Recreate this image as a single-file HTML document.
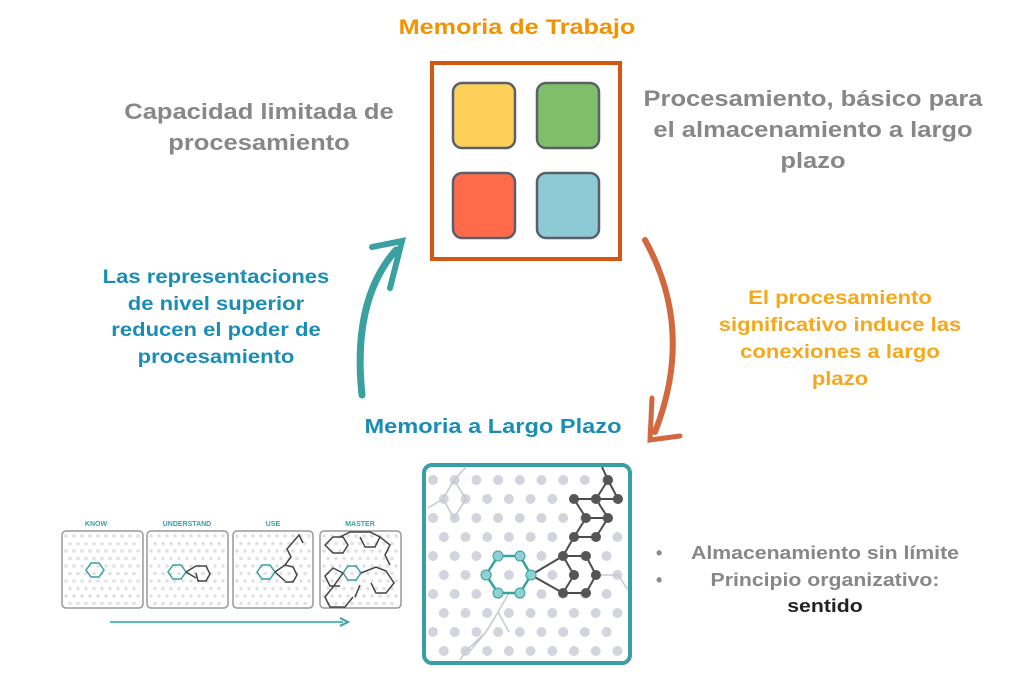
<!DOCTYPE html>
<html><head><meta charset="utf-8"><style>
html,body{margin:0;padding:0;background:#fff;}
body{width:1024px;height:682px;position:relative;overflow:hidden;font-family:"Liberation Sans",Arial,sans-serif;font-weight:bold;}
.t{position:absolute;text-align:center;white-space:nowrap;transform:scaleX(1.16);}
</style></head><body>
<div class="t" style="left:317px;width:400px;top:16px;font-size:21px;color:#f39200;transform:scaleX(1.2);">Memoria de Trabajo</div>
<div class="t" style="left:100px;width:318px;top:96px;font-size:22px;line-height:31px;color:#878787;">Capacidad limitada de<br>procesamiento</div>
<div class="t" style="left:630px;width:366px;top:83px;font-size:22px;line-height:31px;color:#878787;">Procesamiento, básico para<br>el almacenamiento a largo<br>plazo</div>
<div class="t" style="left:60px;width:312px;top:265px;font-size:19px;line-height:26.5px;color:#1a8db5;">Las representaciones<br>de nivel superior<br>reducen el poder de<br>procesamiento</div>
<div class="t" style="left:690px;width:300px;top:285px;font-size:19px;line-height:27px;color:#f5a81c;">El procesamiento<br>significativo induce las<br>conexiones a largo<br>plazo</div>
<div class="t" style="left:293px;width:400px;top:416px;font-size:20px;color:#1a8db5;transform:scaleX(1.18);">Memoria a Largo Plazo</div>
<div style="position:absolute;left:656px;top:540px;font-size:18px;line-height:27px;color:#8a8a8a;">•<br>•</div>
<div class="t" style="left:680px;width:290px;top:540px;font-size:18px;line-height:26.5px;color:#878787;transform:scaleX(1.18);">Almacenamiento sin límite<br>Principio organizativo:<br><span style="color:#222">sentido</span></div>

<svg width="1024" height="682" style="position:absolute;left:0;top:0" xmlns="http://www.w3.org/2000/svg">
<rect x="432" y="63" width="188" height="196" fill="none" stroke="#d4570f" stroke-width="4"/>
<rect x="453" y="83" width="62" height="65" rx="9" fill="#fdd05a" stroke="#5a5f6a" stroke-width="2.5"/>
<rect x="537" y="83" width="62" height="65" rx="9" fill="#7fbf6a" stroke="#5a5f6a" stroke-width="2.5"/>
<rect x="453" y="173" width="62" height="65" rx="9" fill="#ff6b4a" stroke="#5a5f6a" stroke-width="2.5"/>
<rect x="537" y="173" width="62" height="65" rx="9" fill="#8ecad6" stroke="#5a5f6a" stroke-width="2.5"/>
<g fill="none" stroke="#3aa0a0" stroke-width="7" stroke-linecap="round">
<path d="M362,395 Q352,300 396,250"/>
<path d="M372,247 L402,241 L390,288" stroke-width="6"/>
</g>
<g fill="none" stroke="#d2683f" stroke-width="6" stroke-linecap="round">
<path d="M645,240 Q695,330 655,432"/>
<path d="M652,398 L650,440 L680,436" stroke-width="5"/>
</g>
<rect x="424" y="465" width="206" height="198" rx="8" fill="none" stroke="#3a9fa5" stroke-width="4"/>
<g id="dots" fill="#d2d4de"></g>
<g fill="none" stroke="#c7c9d0" stroke-width="1.5">
<path d="M428,508 L443,499 L454,480 L466,467 M443,499 L454,518 L466,499 L454,480"/>
<path d="M498,612 L486,632 L466,651 L460,660 M498,612 L509,593 M498,612 L509,632 M486,632 L470,651"/>
<path d="M596,575 L618,575 L628,590"/>
</g>
<g stroke="#4d4d4d" stroke-width="2" fill="none">
<path d="M531,575 L563,556 M531,575 L563,593 M563,556 L586,556 L596,575 L586,593 L563,593 L574,575 L563,556 M563,556 L574,537 L596,537 L608,518 L596,499 L574,499 L586,518 L574,537 M586,518 L608,518 M596,499 L618,499 L608,480 L596,499 M608,480 L602,467"/>
</g>
<g fill="#555"><circle cx="563" cy="556" r="5"/><circle cx="586" cy="556" r="5"/><circle cx="596" cy="575" r="5"/><circle cx="586" cy="593" r="5"/><circle cx="563" cy="593" r="5"/><circle cx="574" cy="575" r="5"/><circle cx="574" cy="537" r="5"/><circle cx="596" cy="537" r="5"/><circle cx="586" cy="518" r="5"/><circle cx="608" cy="518" r="5"/><circle cx="574" cy="499" r="5"/><circle cx="596" cy="499" r="5"/><circle cx="618" cy="499" r="5"/><circle cx="608" cy="480" r="5"/></g>
<path d="M498,556 L520,556 L531,575 L520,593 L498,593 L486,575 Z" fill="none" stroke="#3aa0a0" stroke-width="2.5"/>
<g fill="#8fd0d3" stroke="#3aa0a0"><circle cx="498" cy="556" r="5"/><circle cx="520" cy="556" r="5"/><circle cx="531" cy="575" r="5"/><circle cx="520" cy="593" r="5"/><circle cx="498" cy="593" r="5"/><circle cx="486" cy="575" r="5"/></g>

<g font-size="7" fill="#3a9fa5" text-anchor="middle"><text x="96" y="526">KNOW</text><text x="187" y="526">UNDERSTAND</text><text x="273" y="526">USE</text><text x="360" y="526">MASTER</text></g>
<g id="panels" fill="none" stroke="#999" stroke-width="1.5">
<rect x="62" y="531" width="81" height="77" rx="4"/><rect x="147" y="531" width="81" height="77" rx="4"/><rect x="233" y="531" width="80" height="77" rx="4"/><rect x="320" y="531" width="81" height="77" rx="4"/></g>
<g id="sdots" fill="#e0e1e6"></g>
<g fill="none" stroke="#3aa0a0" stroke-width="1.5"><path d="M86,570 l5,-7 h8 l5,7 l-5,7 h-8z"/><path d="M168,572 l5,-7 h8 l5,7 l-5,7 h-8z"/><path d="M257,572 l5,-7 h8 l5,7 l-5,7 h-8z"/><path d="M343,573 l5,-7 h8 l5,7 l-5,7 h-8z"/></g>
<g fill="none" stroke="#444" stroke-width="1.5">
<path d="M186,572 l10,-6 l10,0 l4,8 l-4,7 l-8,0 l-2,-8 M186,572 l10,6"/>
<path d="M275,572 l10,-7 l6,-8 l-4,-8 l6,-7 l6,-7 l4,8 M285,565 l8,2 l4,8 l-4,7 l-8,0 M275,572 l10,9"/>
<path d="M325,545 l8,-8 h10 l5,8 l-5,8 h-10z M340,537 l10,-5 h20 l10,5 l-5,10 h-10 l-5,-10 M380,537 l10,8 l-5,10 l5,10 M361,573 l15,-6 l10,4 l8,12 l-8,10 h-10 l-5,-10 M343,573 l-10,-5 l-8,8 l5,10 h10 M343,573 l-10,14 l-8,10 l5,10 h15 l8,-10 M360,585 l-5,12"/>
</g>
<path d="M110,622 L343,622" stroke="#5bb9c2" stroke-width="2"/>
<path d="M340,618 L348,622 L340,626" fill="none" stroke="#3a9fa5" stroke-width="2"/>
</svg>
<script>
var ns="http://www.w3.org/2000/svg",g=document.getElementById("dots");
for(var i=0;i<10;i++){var y=480+19*i,off=(i%2)?10.8:0;for(var j=0;j<10;j++){var x=433+off+21.7*j;if(x>622)continue;var c=document.createElementNS(ns,"circle");c.setAttribute("cx",x);c.setAttribute("cy",y);c.setAttribute("r",5);g.appendChild(c);}}
var s=document.getElementById("sdots"),px=[62,147,233,320];
px.forEach(function(p){for(var i=0;i<10;i++){var y=536+7.5*i,off=(i%2)?4:0;for(var j=0;j<10;j++){var x=p+4+off+8*j;if(x>p+78)continue;var c=document.createElementNS(ns,"circle");c.setAttribute("cx",x);c.setAttribute("cy",y);c.setAttribute("r",1.8);s.appendChild(c);}}});
</script>
</body></html>
